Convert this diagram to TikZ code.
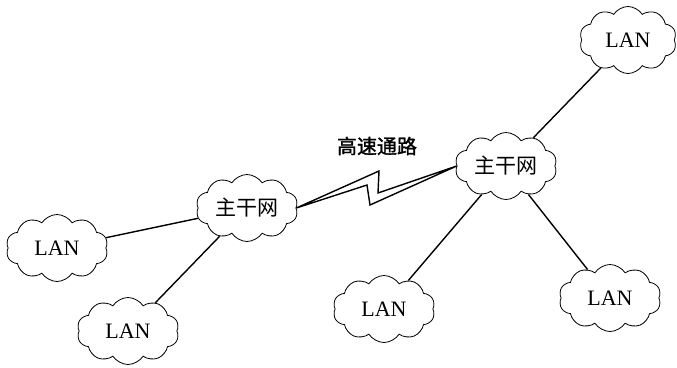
\documentclass[tikz,border=0pt]{standalone}
\usepackage{fontspec}
\setmainfont{Liberation Serif}
\newfontfamily\cjk{Noto Sans CJK SC}
\newfontfamily\cjkb{Noto Sans CJK SC}[FakeBold=1.5]
\usetikzlibrary{shapes.symbols}
\begin{document}
\begin{tikzpicture}[x=1pt,y=-1pt,
  lan/.style={cloud, cloud puffs=10, cloud puff arc=115, cloud ignores aspect, draw, line width=0.8pt,
    minimum width=102pt, minimum height=67pt, inner sep=0pt, font=\fontsize{22}{22}\selectfont},
  core/.style={lan, font=\cjk\fontsize{21}{21}\selectfont},
  link/.style={line width=1.4pt}]
\useasboundingbox (0,0) rectangle (677,367);
\node[lan] (l1) at (57,248) {LAN};
\node[lan] (l2) at (128,331) {LAN};
\node[core] (c1) at (247,208) {主干网};
\node[core] (c2) at (506,166) {主干网};
\node[lan, minimum width=97pt] (l3) at (628,40) {LAN};
\node[lan] (l4) at (384,309) {LAN};
\node[lan] (l5) at (610,298) {LAN};
\node[font=\cjkb\fontsize{20}{20}\selectfont] (lbl) at (377,146) {高速通路};
\draw[link] (l1) -- (c1);
\draw[link] (l2) -- (c1);
\draw[link] (c2) -- (l3);
\draw[link] (c2) -- (l4);
\draw[link] (c2) -- (l5);
\coordinate (za) at (379,171);
\coordinate (zb) at (378,193);
\coordinate (zc) at (370,205);
\coordinate (zd) at (367,185);
\draw[link, line join=miter] (c1.east) -- (za) -- (zb) -- (c2.west) -- (zc) -- (zd) -- cycle;
\end{tikzpicture}
\end{document}
